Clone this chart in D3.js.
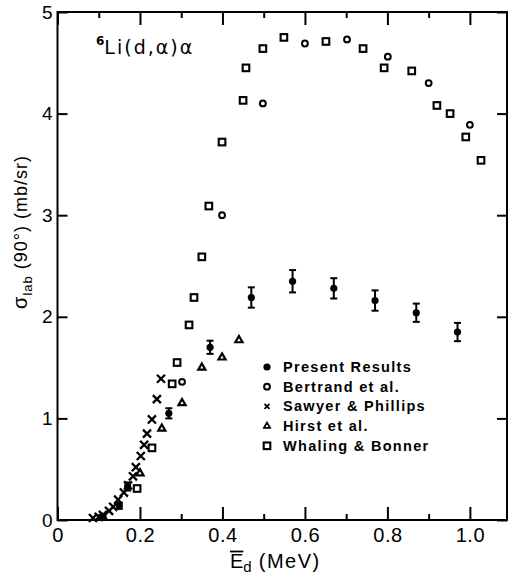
<!DOCTYPE html>
<html><head><meta charset="utf-8">
<script src="https://cdn.jsdelivr.net/npm/d3@7"></script>
<style>
html,body{margin:0;padding:0;background:#fff;}
svg{display:block;}
text{fill:#000;}
</style></head>
<body>
<svg id="c" width="508" height="576"></svg>
<script>
// ---- data (E_d in MeV, sigma in mb/sr) ----
const presentE   = [0.11, 0.15, 0.17, 0.27, 0.37, 0.47, 0.57, 0.67, 0.77, 0.87, 0.97];
const presentS   = [0.03, 0.14, 0.33, 1.05, 1.70, 2.19, 2.35, 2.28, 2.16, 2.04, 1.85];
const presentErr = [0.02, 0.03, 0.04, 0.05, 0.065, 0.10, 0.11, 0.10, 0.10, 0.09, 0.09];

const bertrandE = [0.302, 0.399, 0.498, 0.600, 0.702, 0.801, 0.900, 1.000];
const bertrandS = [1.36, 3.00, 4.10, 4.69, 4.73, 4.56, 4.30, 3.89];

const sawyerE = [0.086, 0.100, 0.110, 0.125, 0.135, 0.147, 0.161, 0.171, 0.183, 0.190, 0.202, 0.210, 0.217, 0.229, 0.241, 0.251];
const sawyerS = [0.02, 0.03, 0.05, 0.09, 0.13, 0.20, 0.27, 0.34, 0.43, 0.52, 0.63, 0.74, 0.85, 0.99, 1.19, 1.39];

const hirstE = [0.200, 0.253, 0.302, 0.350, 0.399, 0.440];
const hirstS = [0.46, 0.90, 1.15, 1.50, 1.60, 1.77];

const whalingE = [0.193, 0.229, 0.278, 0.290, 0.319, 0.331, 0.350, 0.367, 0.399, 0.450, 0.457, 0.498, 0.549, 0.651, 0.741, 0.792, 0.859, 0.920, 0.952, 0.990, 1.027];
const whalingS = [0.31, 0.71, 1.34, 1.55, 1.92, 2.19, 2.59, 3.09, 3.72, 4.13, 4.45, 4.64, 4.75, 4.71, 4.64, 4.45, 4.42, 4.08, 4.00, 3.77, 3.54];

const xMajor = [0, 0.2, 0.4, 0.6, 0.8, 1.0];
const xMajorLabels = ["0", "0.2", "0.4", "0.6", "0.8", "1.0"];
const xMinor = [0.1, 0.3, 0.5, 0.7, 0.9];
const yTicks = [0, 1, 2, 3, 4, 5];

const legendLabels = ["Present Results", "Bertrand et al.", "Sawyer & Phillips", "Hirst et al.", "Whaling & Bonner"];
const legendKinds  = ["filled", "circle", "cross", "triangle", "square"];

// ---- layout ----
const L = 57.5, R = 507, T = 12, B = 520;
const svg = d3.select("#c");
const x = d3.scaleLinear().domain([0, 1.09]).range([L, R]);
const y = d3.scaleLinear().domain([0, 5]).range([B, T]);
const FONT = "'Liberation Sans', Arial, sans-serif";
const WIDE = "'DejaVu Sans', sans-serif";

// frame
svg.append("rect").attr("x", L).attr("y", T).attr("width", R - L).attr("height", B - T)
  .attr("fill", "none").attr("stroke", "#000").attr("stroke-width", 2);

function styleAxis(g){
  g.select(".domain").remove();
  g.selectAll(".tick line").attr("stroke", "#000").attr("stroke-width", 2);
  g.selectAll(".tick text").attr("font-family", FONT).attr("fill", "#000");
}

// bottom major
const gB = svg.append("g").attr("transform", `translate(0,${B})`)
  .call(d3.axisBottom(x).tickValues(xMajor).tickSize(-13).tickPadding(8)
        .tickFormat((d,i) => xMajorLabels[i]));
styleAxis(gB);
gB.selectAll(".tick text").attr("font-size", 20).attr("letter-spacing", "0.5px");
// bottom minor
styleAxis(svg.append("g").attr("transform", `translate(0,${B})`)
  .call(d3.axisBottom(x).tickValues(xMinor).tickSize(-6).tickFormat("")));
// top major/minor
styleAxis(svg.append("g").attr("transform", `translate(0,${T})`)
  .call(d3.axisTop(x).tickValues(xMajor).tickSize(-13).tickFormat("")));
styleAxis(svg.append("g").attr("transform", `translate(0,${T})`)
  .call(d3.axisTop(x).tickValues(xMinor).tickSize(-6).tickFormat("")));
// left
const gL = svg.append("g").attr("transform", `translate(${L},0)`)
  .call(d3.axisLeft(y).tickValues(yTicks).tickSize(-10).tickPadding(5).tickFormat(d3.format("d")));
styleAxis(gL);
gL.selectAll(".tick text").attr("font-size", 19);
// right
styleAxis(svg.append("g").attr("transform", `translate(${R},0)`)
  .call(d3.axisRight(y).tickValues(yTicks).tickSize(-10).tickFormat("")));

// ---- markers ----
const mk = svg.append("g");
function drawMarker(g, kind, cx, cy){
  if (kind === "filled") {
    g.append("circle").attr("cx", cx).attr("cy", cy).attr("r", 3.6).attr("fill", "#000");
  } else if (kind === "circle") {
    g.append("circle").attr("cx", cx).attr("cy", cy).attr("r", 2.9)
      .attr("fill", "none").attr("stroke", "#000").attr("stroke-width", 2);
  } else if (kind === "square") {
    g.append("rect").attr("x", cx - 3.3).attr("y", cy - 3.3).attr("width", 6.6).attr("height", 6.6)
      .attr("fill", "none").attr("stroke", "#000").attr("stroke-width", 2.1);
  } else if (kind === "cross") {
    g.append("path").attr("transform", `translate(${cx},${cy})`)
      .attr("d", d3.symbol().type(d3.symbolTimes).size(44)())
      .attr("fill", "none").attr("stroke", "#000").attr("stroke-width", 2.3);
  } else if (kind === "triangle") {
    g.append("path").attr("transform", `translate(${cx},${cy})`)
      .attr("d", d3.symbol().type(d3.symbolTriangle).size(22)())
      .attr("fill", "none").attr("stroke", "#000").attr("stroke-width", 2.2);
  }
}

sawyerE.forEach((e,i) => drawMarker(mk, "cross", x(e), y(sawyerS[i])));
hirstE.forEach((e,i) => drawMarker(mk, "triangle", x(e), y(hirstS[i])));
whalingE.forEach((e,i) => drawMarker(mk, "square", x(e), y(whalingS[i])));
bertrandE.forEach((e,i) => drawMarker(mk, "circle", x(e), y(bertrandS[i])));

// present results with error bars
presentE.forEach((e,i) => {
  const cx = x(e), s = presentS[i], er = presentErr[i];
  const y1 = y(s + er), y2 = y(s - er);
  mk.append("line").attr("x1", cx).attr("x2", cx).attr("y1", y1).attr("y2", y2)
    .attr("stroke", "#000").attr("stroke-width", 2);
  [y1, y2].forEach(yy => mk.append("line").attr("x1", cx - 3.5).attr("x2", cx + 3.5)
    .attr("y1", yy).attr("y2", yy).attr("stroke", "#000").attr("stroke-width", 2));
  drawMarker(mk, "filled", cx, y(s));
});

// ---- legend ----
const lg = svg.append("g");
legendLabels.forEach((lab,i) => {
  const cy = 367 + i * 19.7;
  const g = lg.append("g");
  const k = legendKinds[i];
  if (k === "cross") g.append("path").attr("transform", `translate(267,${cy})`)
      .attr("d", d3.symbol().type(d3.symbolTimes).size(18)()).attr("fill","none").attr("stroke","#000").attr("stroke-width",1.8);
  else if (k === "triangle") g.append("path").attr("transform", `translate(267,${cy})`)
      .attr("d", d3.symbol().type(d3.symbolTriangle).size(16)()).attr("fill","none").attr("stroke","#000").attr("stroke-width",1.8);
  else drawMarker(g, k, 267, cy);
  g.append("text").attr("x", 283).attr("y", cy + 5).text(lab)
    .attr("font-family", FONT).attr("font-weight", "bold").attr("font-size", 14.5)
    .attr("letter-spacing", "1.3px");
});

// ---- title ----
const t = svg.append("text").attr("x", 96).attr("y", 54).attr("font-family", WIDE).attr("font-size", 19);
t.append("tspan").attr("font-size", 12).attr("font-weight", "bold").attr("dy", -9).text("6");
t.append("tspan").attr("dy", 9).attr("letter-spacing", "2px").text("Li(d,α)α");

// ---- y label ----
const yl = svg.append("text").attr("transform", "translate(27,232) rotate(-90)")
  .attr("text-anchor", "middle").attr("font-family", FONT).attr("font-size", 18)
  .attr("letter-spacing", "1px");
yl.append("tspan").attr("font-size", 20).text("σ");
yl.append("tspan").attr("font-size", 13).attr("dy", 5).text("lab");
yl.append("tspan").attr("dy", -5).text(" (90°)  (mb/sr)");

// ---- x label ----
const xE = svg.append("text").attr("x", 230).attr("y", 568).attr("font-family", FONT).attr("font-size", 20).text("E");
const bb = xE.node().getBBox();
svg.append("line").attr("x1", bb.x).attr("x2", bb.x + bb.width).attr("y1", bb.y + 1.5).attr("y2", bb.y + 1.5)
  .attr("stroke", "#000").attr("stroke-width", 1.8);
const xl = svg.append("text").attr("x", bb.x + bb.width).attr("y", 568).attr("font-family", FONT).attr("font-size", 20);
xl.append("tspan").attr("font-size", 15).attr("dy", 4).text("d");
xl.append("tspan").attr("dy", -4).attr("letter-spacing", "1.5px").text(" (MeV)");
</script>
</body></html>
